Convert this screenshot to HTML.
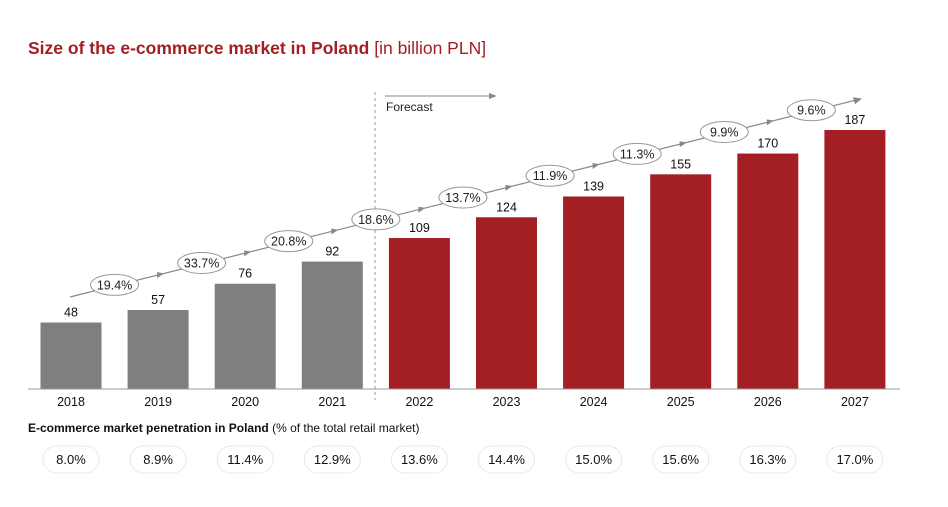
<!DOCTYPE html>
<html><head><meta charset="utf-8">
<style>
html,body{margin:0;padding:0;background:#fff;}
svg{display:block;font-family:"Liberation Sans",Arial,sans-serif;}
</style></head>
<body>
<svg id="chart" width="948" height="507" viewBox="0 0 948 507">
  <text x="28" y="54" font-size="17.5" fill="#a31f24"><tspan font-weight="bold">Size of the e-commerce market in Poland</tspan> [in billion PLN]</text>
  <g id="bars"></g>
  <line x1="28" y1="389" x2="900" y2="389" stroke="#999" stroke-width="1"/>
  <line x1="375" y1="92" x2="375" y2="400" stroke="#999" stroke-width="1" stroke-dasharray="3,3"/>
  <line x1="385" y1="96" x2="490" y2="96" stroke="#888" stroke-width="1"/>
  <polygon points="497,96 489,93 489,99" fill="#888"/>
  <text x="386" y="111" font-size="12" fill="#222">Forecast</text>
  <g id="growth"></g>
  <text x="28" y="432" font-size="12" fill="#111"><tspan font-weight="bold">E-commerce market penetration in Poland</tspan> (% of the total retail market)</text>
  <g id="pills"></g>
</svg>
<script>
const years = ["2018","2019","2020","2021","2022","2023","2024","2025","2026","2027"];
const marketValues = [48,57,76,92,109,124,139,155,170,187];
const forecastFlags = [false,false,false,false,true,true,true,true,true,true];
const growthRates = ["19.4%","33.7%","20.8%","18.6%","13.7%","11.9%","11.3%","9.9%","9.6%"];
const penetration = ["8.0%","8.9%","11.4%","12.9%","13.6%","14.4%","15.0%","15.6%","16.3%","17.0%"];

const NS = "http://www.w3.org/2000/svg";
const baseY = 389, pxPerUnit = (389-130)/187;
const firstCenter = 71, step = 87.1, barW = 61;
function xScale(i){ return firstCenter + i*step; }
function yScale(v){ return baseY - v*pxPerUnit; }
function lineY(x){ return 297 - (x-70)*0.2506; }
function mk(tag, attrs, parent){ const e=document.createElementNS(NS,tag); for(const k in attrs) e.setAttribute(k,attrs[k]); parent.appendChild(e); return e; }

const gb = document.getElementById("bars");
years.forEach((y,i)=>{
  const cx = xScale(i), top = yScale(marketValues[i]);
  const r = mk("rect",{x:cx-barW/2,y:top,width:barW,height:baseY-top,fill:forecastFlags[i]?"#a31f24":"#7f7f7f"},gb);
  
  
  const t = mk("text",{x:cx,y:top-6,"text-anchor":"middle","font-size":"12.5",fill:"#111"},gb);
  t.textContent = marketValues[i];
  
  
  const xl = mk("text",{x:cx,y:406,"text-anchor":"middle","font-size":"12.5",fill:"#111"},gb);
  xl.textContent = y;
  
  
});

const gg = document.getElementById("growth");
const ln = mk("line",{x1:70,y1:lineY(70),x2:855,y2:lineY(855),stroke:"#888","stroke-width":1.2},gg);


const ah = mk("polygon",{points:"862,"+lineY(862)+" 853,"+(lineY(853)-3.5)+" 855,"+(lineY(855)+4)},gg);
ah.setAttribute("fill","#888");


for(let i=1;i<growthRates.length;i++){
  const mx = xScale(i)+ 2;
  const m = mk("polygon",{points:(mx+4)+","+lineY(mx+4)+" "+(mx-3)+","+(lineY(mx-3)-3)+" "+(mx-3)+","+(lineY(mx-3)+3),fill:"#888"},gg);
  
  
}
growthRates.forEach((g,i)=>{
  const cx = xScale(i)+step/2, cy = lineY(cx)-1;
  const e = mk("ellipse",{cx:cx,cy:cy,rx:24,ry:10.5,fill:"#fff",stroke:"#999","stroke-width":1},gg);
  
  
  const t = mk("text",{x:cx,y:cy+4.5,"text-anchor":"middle","font-size":"12.5",fill:"#222"},gg);
  t.textContent = g;
  
  
});

const gp = document.getElementById("pills");
penetration.forEach((p,i)=>{
  const cx = xScale(i);
  const r = mk("rect",{x:cx-28,y:446,width:56,height:27,rx:13.5,fill:"#fff",stroke:"#e8e8e8","stroke-width":1},gp);
  
  
  const t = mk("text",{x:cx,y:464,"text-anchor":"middle","font-size":"13",fill:"#111"},gp);
  t.textContent = p;
  
  
});
</script>
</body></html>
